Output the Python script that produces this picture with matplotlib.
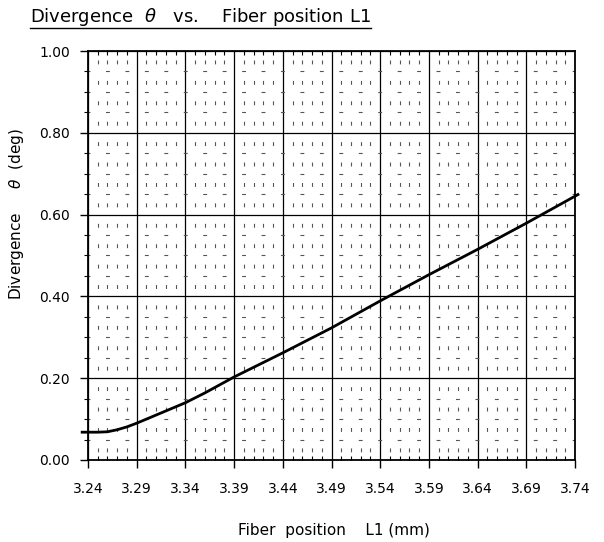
import numpy as np
import matplotlib.pyplot as plt
from matplotlib.lines import Line2D
from matplotlib.ticker import FixedLocator, FormatStrFormatter

plt.rcParams['font.family'] = ['DejaVu Sans']
plt.rcParams['lines.scale_dashes'] = False

# curve
pos = [3.234, 3.24, 3.25, 3.26, 3.27, 3.28, 3.29, 3.31, 3.34, 3.36,
       3.39, 3.44, 3.49, 3.54, 3.59, 3.64, 3.69, 3.74, 3.743]
div = [0.068, 0.068, 0.068, 0.069, 0.074, 0.081, 0.090, 0.110, 0.140, 0.164,
       0.203, 0.262, 0.323, 0.389, 0.453, 0.515, 0.579, 0.645, 0.649]

xticks = [3.24, 3.29, 3.34, 3.39, 3.44, 3.49, 3.54, 3.59, 3.64, 3.69, 3.74]
yticks = [0.0, 0.2, 0.4, 0.6, 0.8, 1.0]

fig = plt.figure(figsize=(6.04, 5.42), dpi=100)
ax = fig.add_axes([0.1457, 0.1513, 0.8063, 0.7546])

ax.plot(pos, div, color='black', lw=2.0, clip_on=False, zorder=5)

ax.set_xlim(3.24, 3.74)
ax.set_ylim(0, 1.0)

xminor = [round(3.24 + 0.01 * i, 2) for i in range(51)]
xminor = [v for v in xminor if v not in xticks]
yminor = [round(0.05 * i, 2) for i in range(21)]
yminor = [v for v in yminor if v not in yticks]

ax.xaxis.set_major_locator(FixedLocator(xticks))
ax.xaxis.set_minor_locator(FixedLocator(xminor))
ax.yaxis.set_major_locator(FixedLocator(yticks))
ax.yaxis.set_minor_locator(FixedLocator(yminor))
ax.xaxis.set_major_formatter(FormatStrFormatter('%.2f'))
ax.yaxis.set_major_formatter(FormatStrFormatter('%.2f'))

ax.tick_params(axis='x', which='major', direction='out', length=6, width=1,
               labelsize=10, pad=10)
ax.tick_params(axis='x', which='minor', direction='in', length=3, width=0.8,
               top=True)
ax.tick_params(axis='y', which='major', direction='out', length=6, width=1,
               labelsize=10, pad=7)
ax.tick_params(axis='y', which='minor', direction='out', length=3, width=0.8)

ax.grid(which='major', color='black', lw=0.9)
ax.xaxis.grid(which='minor', color='#555555', lw=0.8, linestyle=(8.8, (2.8, 11.9)))
ax.yaxis.grid(which='minor', color='#555555', lw=0.8, linestyle=(1.4, (2.8, 11.2)))
ax.set_axisbelow(True)

for s in ax.spines.values():
    s.set_linewidth(1.3)

ax.set_xlabel('Fiber  position    L1 (mm)', fontsize=11)
ax.xaxis.set_label_coords(0.505, -0.155)
ax.set_ylabel(r'Divergence     $\theta$  (deg)', fontsize=11)
ax.yaxis.set_label_coords(-0.127, 0.60)

t = fig.text(30 / 604, 1 - 22 / 542, r'Divergence  $\theta$   vs.    Fiber position L1',
             fontsize=13, va='baseline', ha='left')
fig.canvas.draw()
bb = t.get_window_extent().transformed(fig.transFigure.inverted())
uy = 1 - 28 / 542
fig.add_artist(Line2D([bb.x0, bb.x1], [uy, uy], color='black', lw=1.0,
                      transform=fig.transFigure))

fig.savefig('out.png', dpi=100)
